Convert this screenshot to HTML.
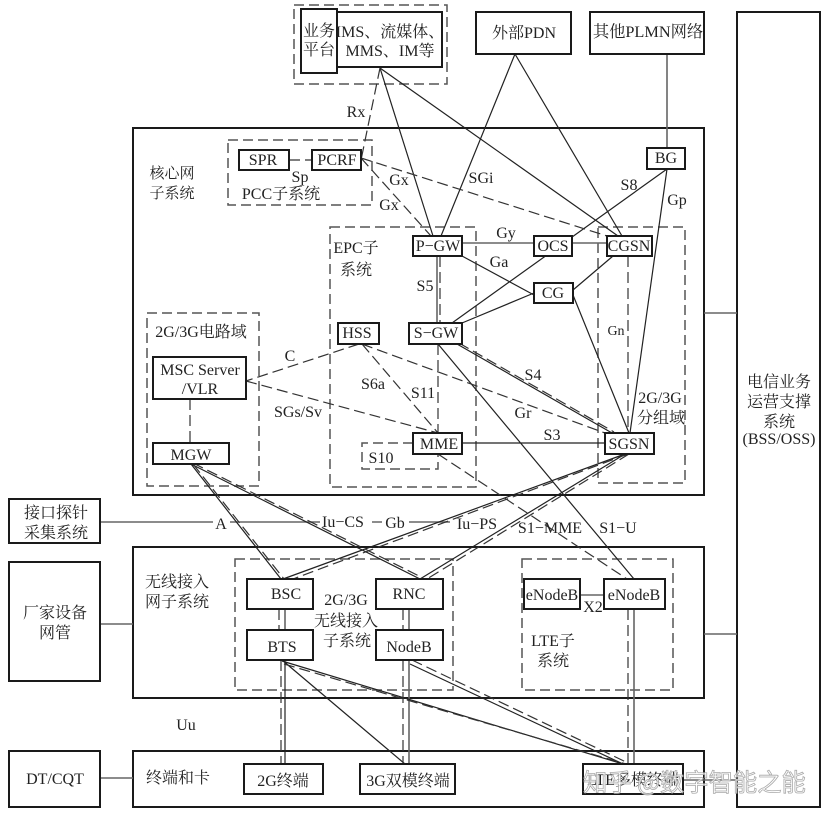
<!DOCTYPE html>
<html><head><meta charset="utf-8"><style>
html,body{margin:0;padding:0;background:#fff;width:828px;height:815px;overflow:hidden}
svg{display:block}
text{font-family:"Liberation Serif","Noto Serif CJK SC",serif;font-size:16px;fill:#222;text-anchor:middle}
.b{fill:#fff;stroke:#1a1a1a;stroke-width:2}
.n{fill:none;stroke:#1a1a1a;stroke-width:2}
.d{fill:none;stroke:#555;stroke-width:1.5;stroke-dasharray:10 5}
.l{stroke:#222;stroke-width:1.2;fill:none}
.g{stroke:#666;stroke-width:1.6;fill:none}
.k{stroke:#333;stroke-width:1.2;stroke-dasharray:11 5;fill:none}
.wm{font-family:"Noto Sans CJK SC",sans-serif;font-size:24.3px;fill:#fff;fill-opacity:.75;stroke:#aaa;stroke-width:.8;text-anchor:start}
</style></head><body>
<svg width="828" height="815" viewBox="0 0 828 815" xmlns="http://www.w3.org/2000/svg">
<rect class="n" x="133" y="128" width="571" height="367"/>
<rect class="n" x="133" y="547" width="571" height="151"/>
<rect class="n" x="133" y="751" width="571" height="56"/>
<rect class="n" x="737" y="12" width="83" height="795"/>
<rect class="d" x="294" y="5" width="153" height="79"/>
<rect class="d" x="228" y="140" width="144" height="65"/>
<rect class="d" x="330" y="227" width="146" height="260"/>
<rect class="d" x="598" y="227" width="87" height="256"/>
<rect class="d" x="147" y="313" width="112" height="173"/>
<rect class="d" x="235" y="559" width="218" height="131"/>
<rect class="d" x="522" y="559" width="151" height="131"/>
<path class="d" d="M413 443H362V469H438V454"/>

<path class="l" d="M380 68L433 236M380 68L618 236M515 54L441 236M515 54L622 236M667 169L452 323M667 169L630 433M462 256L534 295M462 323L534 293M573 290L613 256M573 295L629 433M438 344L634 579M462 443H605"/>
<path class="g" d="M667 54V148M462 243H534M572 243H607M437 256V323M580 595H604M100 522H213M230 522H320M372 522H382M409 522H450M704 313H737M704 634H737M683 780H737M100 624H133M100 778H133M285 609V630M409 609V630M409 660V764M634 609V764"/>
<path class="l" d="M285 660V764M282 660L405 764M410 664L623 764M282 661L623 764M457 344L612 433M625 454L283 579M625 454L420 579M191 464L281 579M191 464L420 579"/>
<path class="k" d="M380 68L361 160M289 160H312M361 158L431 236M361 158L607 236M440 256V323M438 344V433M628 256V433M359 344L246 381M362 344L438 433M362 344L605 433M246 381L438 433M190 399V443M438 454L627 579M459 343L614 432M628 454L293 579M629 454L427 579M193 464L284 579M193 463L423 578M281 660V764M279 609V630M403 609V630M403 660V764M284 664L626 764M412 660L626 762M628 609V764"/>

<g>
<rect class="b" x="301" y="9" width="36" height="64"/>
<rect class="b" x="337" y="12" width="105" height="55"/>
<rect class="b" x="476" y="12" width="95" height="42"/>
<rect class="b" x="590" y="12" width="114" height="42"/>
<rect class="b" x="647" y="148" width="38" height="21"/>
<rect class="b" x="239" y="150" width="50" height="20"/>
<rect class="b" x="312" y="150" width="49" height="20"/>
<rect class="b" x="413" y="236" width="49" height="20"/>
<rect class="b" x="534" y="236" width="38" height="20"/>
<rect class="b" x="607" y="236" width="45" height="20"/>
<rect class="b" x="534" y="283" width="39" height="20"/>
<rect class="b" x="409" y="323" width="53" height="21"/>
<rect class="b" x="338" y="323" width="41" height="21"/>
<rect class="b" x="413" y="433" width="49" height="21"/>
<rect class="b" x="605" y="433" width="49" height="21"/>
<rect class="b" x="153" y="357" width="93" height="42"/>
<rect class="b" x="153" y="443" width="76" height="21"/>
<rect class="b" x="9" y="499" width="91" height="44"/>
<rect class="b" x="9" y="562" width="91" height="119"/>
<rect class="b" x="9" y="751" width="91" height="56"/>
<rect class="b" x="247" y="579" width="66" height="30"/>
<rect class="b" x="376" y="579" width="67" height="30"/>
<rect class="b" x="247" y="630" width="66" height="30"/>
<rect class="b" x="376" y="630" width="67" height="30"/>
<rect class="b" x="524" y="579" width="56" height="30"/>
<rect class="b" x="604" y="579" width="61" height="30"/>
<rect class="b" x="244" y="764" width="79" height="30"/>
<rect class="b" x="360" y="764" width="95" height="30"/>
<rect class="b" x="583" y="764" width="100" height="30"/>
</g>

<text x="319" y="36">业务</text><text x="319" y="55">平台</text>
<text x="390" y="37">IMS、流媒体、</text><text x="390" y="56">MMS、IM等</text>
<text x="524" y="38">外部PDN</text><text x="648" y="37" style="font-size:16.3px">其他PLMN网络</text>
<text x="356" y="117">Rx</text>
<text x="172" y="178" style="font-size:15px">核心网</text><text x="172" y="198" style="font-size:15px">子系统</text>
<text x="263" y="165">SPR</text><text x="337" y="165">PCRF</text>
<text x="300" y="182">Sp</text><text x="281" y="199">PCC子系统</text>
<text x="399" y="185">Gx</text><text x="389" y="210">Gx</text>
<text x="481" y="183">SGi</text><text x="666" y="163">BG</text>
<text x="629" y="190">S8</text><text x="677" y="205">Gp</text>
<text x="506" y="238">Gy</text><text x="499" y="267">Ga</text>
<text x="438" y="251">P−GW</text><text x="553" y="251">OCS</text><text x="629" y="251">CGSN</text>
<text x="553" y="298">CG</text>
<text x="356" y="253">EPC子</text><text x="356" y="275">系统</text>
<text x="425" y="291">S5</text><text x="616" y="335" style="font-size:14px">Gn</text>
<text x="436" y="338">S−GW</text><text x="357" y="338">HSS</text>
<text x="201" y="337">2G/3G电路域</text>
<text x="200" y="375">MSC Server</text><text x="200" y="394">/VLR</text>
<text x="290" y="361">C</text><text x="373" y="389">S6a</text><text x="423" y="398">S11</text>
<text x="298" y="417">SGs/Sv</text>
<text x="533" y="380">S4</text><text x="523" y="418">Gr</text><text x="552" y="440">S3</text>
<text x="660" y="403">2G/3G</text><text x="661" y="423">分组域</text>
<text x="439" y="449">MME</text><text x="629" y="449">SGSN</text><text x="381" y="463">S10</text>
<text x="191" y="460">MGW</text>
<text x="56" y="518">接口探针</text><text x="56" y="538">采集系统</text>
<text x="55" y="618">厂家设备</text><text x="55" y="638">网管</text>
<text x="55" y="784">DT/CQT</text>
<text x="221" y="529">A</text><text x="343" y="527">Iu−CS</text><text x="395" y="528">Gb</text>
<text x="477" y="529">Iu−PS</text><text x="550" y="533">S1−MME</text><text x="618" y="533">S1−U</text>
<text x="177" y="587">无线接入</text><text x="177" y="607">网子系统</text>
<text x="286" y="599">BSC</text><text x="409" y="599">RNC</text>
<text x="346" y="605">2G/3G</text><text x="346" y="626">无线接入</text><text x="347" y="646">子系统</text>
<text x="282" y="652">BTS</text><text x="409" y="652">NodeB</text>
<text x="552" y="600">eNodeB</text><text x="634" y="600">eNodeB</text>
<text x="593" y="612">X2</text>
<text x="553" y="646">LTE子</text><text x="553" y="666">系统</text>
<text x="186" y="730">Uu</text>
<text x="178" y="783">终端和卡</text><text x="283" y="786">2G终端</text><text x="408" y="786">3G双模终端</text>
<text x="633" y="785">LTE多模终端</text>
<text x="779" y="387">电信业务</text><text x="779" y="407">运营支撑</text><text x="779" y="427">系统</text><text x="779" y="444">(BSS/OSS)</text>
<text class="wm" x="583" y="791">知乎 @数字智能之能</text>
</svg>
</body></html>
